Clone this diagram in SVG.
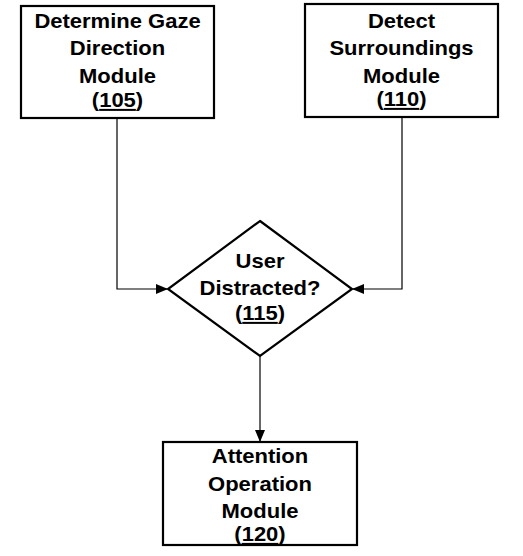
<svg xmlns="http://www.w3.org/2000/svg" width="523" height="556" viewBox="0 0 523 556">
<defs>
<style>
.box{fill:#fff;stroke:#000;stroke-width:2.2}
.con{fill:none;stroke:#000;stroke-width:1.2}
.t{font-family:"Liberation Sans",Arial,sans-serif;font-weight:bold;font-size:20px;fill:#000;text-anchor:middle}
.u{text-decoration:underline}
</style>
<marker id="ah" markerWidth="12" markerHeight="10" refX="11" refY="5" orient="auto" markerUnits="userSpaceOnUse">
<path d="M0,0 L12,5 L0,10 Z" fill="#000"/>
</marker>
</defs>
<rect width="523" height="556" fill="#fff"/>
<g id="connectors">
<path class="con" d="M117,118 V289 H167" marker-end="url(#ah)"/>
<path class="con" d="M402,117 V289 H353" marker-end="url(#ah)"/>
<path class="con" d="M260,356 V441" marker-end="url(#ah)"/>
</g>
<g id="n105">
<rect class="box" x="21" y="6" width="193" height="112"/>
<g transform="translate(117.5,0) scale(1.1,1)">
<text class="t" x="0" y="28">Determine Gaze</text>
<text class="t" x="0" y="55.5">Direction</text>
<text class="t" x="0" y="83">Module</text>
<text class="t" x="0" y="107">(<tspan class="u">105</tspan>)</text>
</g>
</g>
<g id="n110">
<rect class="box" x="305" y="4" width="193" height="113"/>
<g transform="translate(401.5,0) scale(1.1,1)">
<text class="t" x="0" y="28">Detect</text>
<text class="t" x="0" y="55.5">Surroundings</text>
<text class="t" x="0" y="83">Module</text>
<text class="t" x="0" y="106">(<tspan class="u">110</tspan>)</text>
</g>
</g>
<g id="n115">
<polygon class="box" points="260,221 352,289 260,356 168,289"/>
<g transform="translate(260,0) scale(1.1,1)">
<text class="t" x="0" y="268">User</text>
<text class="t" x="0" y="295">Distracted?</text>
<text class="t" x="0" y="320">(<tspan class="u">115</tspan>)</text>
</g>
</g>
<g id="n120">
<rect class="box" x="163" y="442" width="194" height="103"/>
<g transform="translate(260,0) scale(1.1,1)">
<text class="t" x="0" y="463">Attention</text>
<text class="t" x="0" y="491">Operation</text>
<text class="t" x="0" y="518">Module</text>
<text class="t" x="0" y="541">(<tspan class="u">120</tspan>)</text>
</g>
</g>
</svg>
